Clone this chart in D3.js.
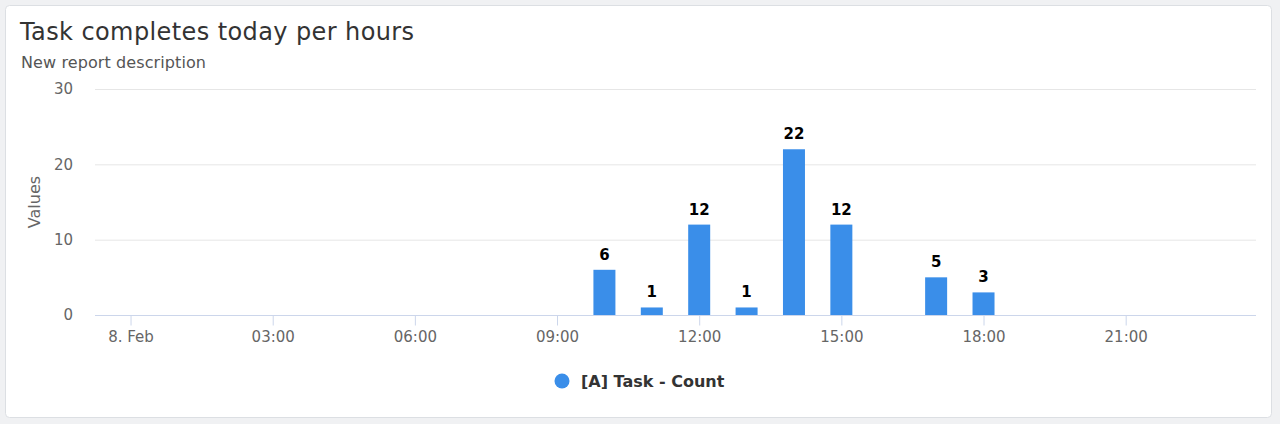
<!DOCTYPE html>
<html><head><meta charset="utf-8">
<script src="https://cdn.jsdelivr.net/npm/d3@7"></script>
<style>
html,body{margin:0;padding:0;background:#f0f1f3;}
svg{display:block;}
</style></head>
<body><svg id="c" width="1280" height="424"></svg>
<script>
const title = "Task completes today per hours";
const subtitle = "New report description";
const yTitle = "Values";
const seriesName = "[A] Task - Count";
const hours = ["10:00","11:00","12:00","13:00","14:00","15:00","17:00","18:00"];
const counts = [6,1,12,1,22,12,5,3];
const yTicks = [0,10,20,30];
const xTickLabels = ["8. Feb","03:00","06:00","09:00","12:00","15:00","18:00","21:00"];
const day = "2024-02-08";

const font = "DejaVu Sans, sans-serif";
const svg = d3.select("#c");
// card
svg.append("rect").attr("x",5.5).attr("y",5.5).attr("width",1266).attr("height",412)
  .attr("rx",4).attr("fill","#fff").attr("stroke","#dcdfe3");

svg.append("text").attr("x",20).attr("y",40).attr("font-family",font).attr("font-size",24)
  .attr("letter-spacing",0.4).attr("fill","#333").text(title);
svg.append("text").attr("x",21).attr("y",68).attr("font-family",font).attr("font-size",16)
  .attr("letter-spacing",0.1).attr("fill","#555").text(subtitle);

const parse = d3.timeParse("%Y-%m-%d %H:%M");
const t0 = parse(day+" 00:00");
const x = d3.scaleTime()
  .domain([d3.timeMinute.offset(t0,-45), d3.timeMinute.offset(t0,23*60+45)])
  .range([95,1256]);
const y = d3.scaleLinear().domain([0,30]).range([315,89]);

// gridlines
svg.append("g").selectAll("line").data(yTicks.slice(1)).join("line")
  .attr("x1",95).attr("x2",1256).attr("y1",d=>y(d)+0.5).attr("y2",d=>y(d)+0.5)
  .attr("stroke","#e6e6e6");

// y axis labels
const yAxis = d3.axisLeft(y).tickValues(yTicks).tickSize(0).tickPadding(0);
const gy = svg.append("g").attr("transform","translate(73,0)").call(yAxis);
gy.select(".domain").remove();
gy.selectAll("text").attr("font-family",font).attr("font-size",15).attr("fill","#666");

svg.append("text").attr("transform","translate(40,202) rotate(-90)").attr("text-anchor","middle")
  .attr("font-family",font).attr("font-size",16).attr("fill","#666").text(yTitle);

// x axis
const xTickDates = xTickLabels.map((l,i)=>d3.timeHour.offset(t0,i*3));
const xAxis = d3.axisBottom(x).tickValues(xTickDates).tickSize(10).tickPadding(6)
  .tickFormat((d,i)=>xTickLabels[i]);
const gx = svg.append("g").attr("transform","translate(0,315.5)").call(xAxis);
gx.select(".domain").attr("stroke","#ccd6eb").attr("d","M95,0H1256");
gx.selectAll(".tick line").attr("stroke","#ccd6eb");
gx.selectAll("text").attr("font-family",font).attr("font-size",15).attr("fill","#666");

// bars
const data = hours.map((h,i)=>({t:parse(day+" "+h), v:counts[i]}));
const bw = 22;
svg.append("g").selectAll("rect").data(data).join("rect")
  .attr("x",d=>x(d.t)-bw/2).attr("width",bw)
  .attr("y",d=>y(d.v)).attr("height",d=>y(0)-y(d.v))
  .attr("fill","#3a8ee9");
svg.append("g").selectAll("text").data(data).join("text")
  .attr("x",d=>x(d.t)).attr("y",d=>y(d.v)-10).attr("text-anchor","middle")
  .attr("font-family",font).attr("font-size",15).attr("font-weight","bold")
  .attr("fill","#000").attr("stroke","#fff").attr("stroke-width",3).attr("paint-order","stroke")
  .text(d=>d.v);

// legend
svg.append("circle").attr("cx",562).attr("cy",381).attr("r",7.5).attr("fill","#3a8ee9");
svg.append("text").attr("x",581).attr("y",387).attr("font-family",font).attr("font-size",16)
  .attr("font-weight","bold").attr("fill","#333").text(seriesName);
</script></body></html>
